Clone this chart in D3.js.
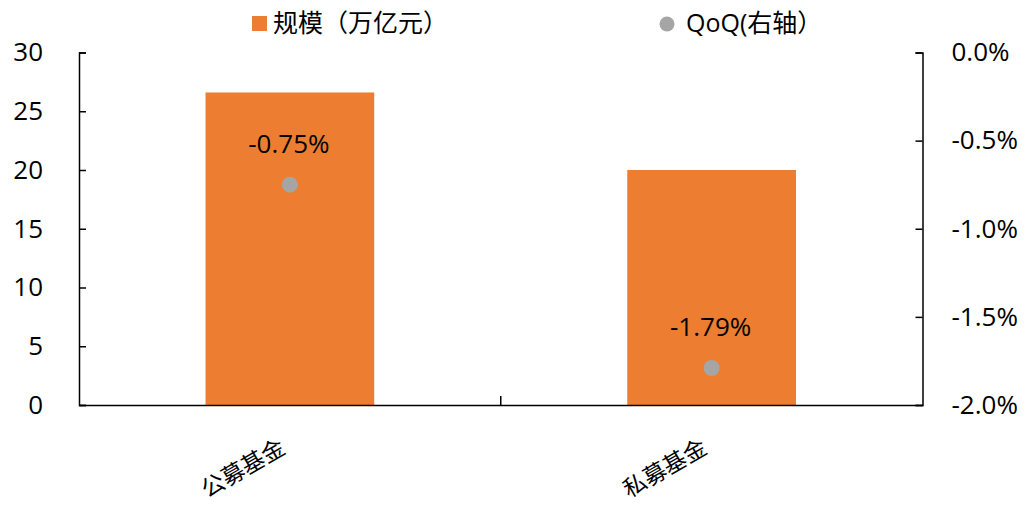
<!DOCTYPE html>
<html>
<head>
<meta charset="utf-8">
<script src="https://cdn.jsdelivr.net/npm/d3@7"></script>
<style>
  body { margin: 0; background: #fff; }
  svg text { font-family: "Open Sans", "Noto Sans CJK SC", sans-serif; fill: #000; }
</style>
</head>
<body>
<div id="graph"></div>
<script>
const categories = ["公募基金", "私募基金"];
const scale = [26.6, 20.0];
const qoq = [-0.0075, -0.0179];
const leftTicks = [0, 5, 10, 15, 20, 25, 30];
const rightTicks = [0, -0.005, -0.01, -0.015, -0.02];
const legendLabels = ["规模（万亿元）", "QoQ(右轴）"];

const w = 1028, h = 506;
const m = { left: 79, right: 105.5, top: 52.5, bottom: 101 };
const orange = "#ED7D31", grey = "#A5A5A5";
const pct = (f) => (v) => d3.format(f)(v).replace("−", "-");

const svg = d3.select("#graph").append("svg").attr("width", w).attr("height", h);

const x = d3.scaleBand().domain(categories).range([m.left, w - m.right]).paddingInner(0.6).paddingOuter(0.3);
const yL = d3.scaleLinear().domain([0, 30]).range([h - m.bottom, m.top]);
const yR = d3.scaleLinear().domain([-0.02, 0]).range([h - m.bottom, m.top]);

// bars
svg.append("g")
  .selectAll("rect")
  .data(categories)
  .enter()
  .append("rect")
  .attr("x", (d) => x(d))
  .attr("width", x.bandwidth())
  .attr("y", (d, i) => yL(scale[i]))
  .attr("height", (d, i) => yL(0) - yL(scale[i]))
  .attr("fill", orange);

// points + labels
const pts = svg.append("g");
pts.selectAll("circle")
  .data(categories)
  .enter()
  .append("circle")
  .attr("cx", (d) => x(d) + x.bandwidth() / 2)
  .attr("cy", (d, i) => yR(qoq[i]))
  .attr("r", 8)
  .attr("fill", grey);
pts.selectAll("text")
  .data(categories)
  .enter()
  .append("text")
  .attr("x", (d) => x(d) + x.bandwidth() / 2 - 1)
  .attr("y", (d, i) => yR(qoq[i]) - 32)
  .attr("text-anchor", "middle")
  .attr("font-size", 26)
  .text((d, i) => pct(".2%")(qoq[i]));

// left axis
const axL = svg.append("g")
  .attr("transform", `translate(${m.left},0)`)
  .call(d3.axisRight(yL).tickValues(leftTicks).tickSize(7).tickFormat(d3.format("d")));
axL.selectAll("text").attr("x", -36).attr("text-anchor", "end").attr("font-size", 26);

// right axis
const axR = svg.append("g")
  .attr("transform", `translate(${w - m.right},0)`)
  .call(d3.axisLeft(yR).tickValues(rightTicks).tickSize(7).tickFormat(pct(".1%")));
axR.selectAll("text").attr("x", 29).attr("text-anchor", "start").attr("font-size", 26);

// bottom axis
const axB = svg.append("g")
  .attr("transform", `translate(0,${h - m.bottom})`)
  .call(d3.axisTop(x).tickSize(0).tickFormat(""));
axB.selectAll(".tick").remove();
axB.append("line")
  .attr("x1", (m.left + w - m.right) / 2)
  .attr("x2", (m.left + w - m.right) / 2)
  .attr("y1", 0)
  .attr("y2", -9)
  .attr("stroke", "#000")
  .attr("stroke-width", 1.5);

svg.selectAll(".domain").attr("stroke", "#000").attr("stroke-width", 1.5);
svg.selectAll(".tick line").attr("stroke", "#000").attr("stroke-width", 1.5);

// category labels, rotated
svg.append("g")
  .selectAll("text")
  .data(categories)
  .enter()
  .append("text")
  .attr("transform", (d) => `translate(${x(d) + x.bandwidth() / 2 - 6},${h - m.bottom + 42}) rotate(-30)`)
  .attr("text-anchor", "end")
  .attr("dominant-baseline", "middle")
  .attr("font-size", 23)
  .text((d) => d);

// legend
const lg = svg.append("g").attr("font-size", 25);
lg.append("rect").attr("x", 252).attr("y", 16).attr("width", 15).attr("height", 15).attr("fill", orange);
lg.append("text").attr("x", 273).attr("y", 25).attr("dominant-baseline", "middle").text(legendLabels[0]);
lg.append("circle").attr("cx", 667).attr("cy", 24).attr("r", 7.5).attr("fill", grey);
lg.append("text").attr("x", 686).attr("y", 25).attr("dominant-baseline", "middle").text(legendLabels[1]);
</script>
</body>
</html>
